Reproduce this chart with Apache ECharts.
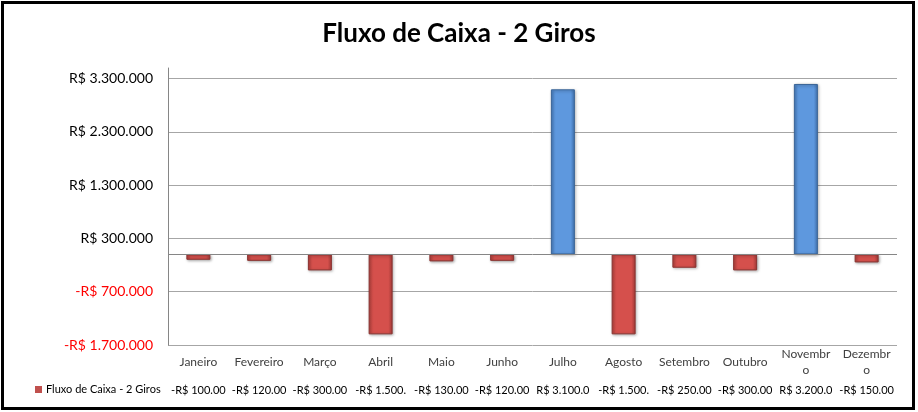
<!DOCTYPE html>
<html>
<head>
<meta charset="utf-8">
<script src="https://cdn.jsdelivr.net/npm/echarts@6/dist/echarts.min.js"></script>
<style>
  body { margin: 0; background: #fff; }
  #grafico { width: 918px; height: 412px; }
</style>
</head>
<body>
<div id="grafico"></div>
<script>
var meses = ["Janeiro", "Fevereiro", "Março", "Abril", "Maio", "Junho",
  "Julho", "Agosto", "Setembro", "Outubro", "Novembro", "Dezembro"];
var fluxo = [-100000, -120000, -300000, -1500000, -130000, -120000,
  3100000, -1500000, -250000, -300000, 3200000, -150000];
var marcasEixo = [-1700000, -700000, 300000, 1300000, 2300000, 3300000];
var nomeSerie = "Fluxo de Caixa - 2 Giros";

var fonte = "Lato";

// formato moeda pt-BR
function brl(v, casas) {
  var neg = v < 0;
  var s = Math.abs(v).toFixed(casas);
  var partes = s.split(".");
  var inteiro = partes[0].replace(/\B(?=(\d{3})+(?!\d))/g, ".");
  var txt = "R$ " + inteiro + (partes[1] ? "," + partes[1] : "");
  return (neg ? "-" : "") + txt;
}

function gradiente(borda, meio, escuro) {
  return new echarts.graphic.LinearGradient(0, 0, 1, 0, [
    { offset: 0, color: borda },
    { offset: 0.18, color: meio },
    { offset: 0.82, color: meio },
    { offset: 1, color: escuro },
  ]);
}

var estiloNeg = {
  color: gradiente("#b8433f", "#d5504c", "#a33b38"),
  borderColor: "#8a3330",
  borderWidth: 1,
  shadowBlur: 3,
  shadowColor: "rgba(0,0,0,0.35)",
  shadowOffsetX: 1,
  shadowOffsetY: 1,
};
var estiloPos = {
  color: gradiente("#4a80c2", "#5e98de", "#4273b0"),
  borderColor: "#3b6598",
  borderWidth: 1,
  shadowBlur: 3,
  shadowColor: "rgba(0,0,0,0.35)",
  shadowOffsetX: 1,
  shadowOffsetY: 1,
};

var chart = echarts.init(document.getElementById("grafico"));
var option = {
  animation: false,
  title: {
    text: "Fluxo de Caixa - 2 Giros",
    left: "center",
    top: 16,
    textStyle: { fontFamily: fonte, fontSize: 26, fontWeight: "bold", color: "#000" },
  },
  legend: {
    data: [{ name: nomeSerie, itemStyle: { color: "#c0504d" } }],
    left: 35,
    top: 384,
    padding: 0,
    icon: "rect",
    itemWidth: 7,
    itemHeight: 7,
    itemGap: 4,
    textStyle: { fontFamily: fonte, fontSize: 11, color: "#000", padding: [0, 0, 0, -1] },
  },
  grid: { left: 168, right: 21, top: 68, bottom: 67 },
  xAxis: [
    {
      type: "category",
      data: meses,
      position: "bottom",
      axisLine: { show: false },
      axisTick: { show: false },
      axisLabel: {
        fontFamily: fonte,
        fontSize: 12,
        color: "#404040",
        interval: 0,
        margin: 17,
        verticalAlign: "middle",
        lineHeight: 16,
        width: 53,
        overflow: "breakAll",
      },
    },
    {
      // linha da tabela de dados
      type: "category",
      data: meses,
      position: "bottom",
      axisLine: { show: false },
      axisTick: { show: false },
      axisLabel: {
        fontFamily: fonte,
        fontSize: 11,
        color: "#000",
        interval: 0,
        margin: 45,
        verticalAlign: "middle",
        formatter: function (v, i) {
          // a célula corta o texto (10 caracteres visíveis)
          return brl(fluxo[i], 2).slice(0, 10);
        },
      },
    },
  ],
  yAxis: {
    type: "value",
    min: -1700000,
    max: 3500000,
    axisLine: { show: true, lineStyle: { color: "#868686" } },
    axisTick: { show: false, customValues: marcasEixo },
    splitLine: { show: true, lineStyle: { color: "#a6a6a6", width: 1 } },
    axisLabel: {
      customValues: marcasEixo,
      margin: 15,
      fontFamily: fonte,
      fontSize: 14,
      color: function (v) {
        return v < 0 ? "#ff0000" : "#000";
      },
      formatter: function (v) {
        return brl(v, 0);
      },
    },
  },
  series: [
    {
      name: nomeSerie,
      type: "bar",
      barWidth: 24,
      data: fluxo.map(function (v) {
        return { value: v, itemStyle: v < 0 ? estiloNeg : estiloPos };
      }),
      markLine: {
        silent: true,
        symbol: "none",
        label: { show: false },
        lineStyle: { color: "#868686", type: "solid", width: 1 },
        data: [{ yAxis: 0 }],
      },
    },
  ],
  graphic: [
    {
      type: "rect",
      shape: { x: 2.5, y: 2.5, width: 911, height: 406 },
      style: { fill: "none", stroke: "#000", lineWidth: 3 },
      z: 100,
    },
  ],
};
chart.setOption(option);
</script>
</body>
</html>
